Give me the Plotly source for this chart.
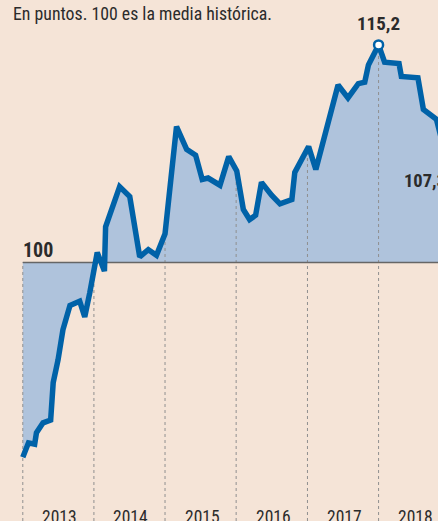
import numpy as np
import pandas as pd
import plotly.graph_objects as go

dates = ["2013-01-01", "2013-01-30", "2013-03-03", "2013-03-12", "2013-04-15", "2013-05-24",
         "2013-06-06", "2013-07-01", "2013-07-26", "2013-08-31", "2013-10-20", "2013-11-15",
         "2013-12-11", "2014-01-18", "2014-02-24", "2014-03-02", "2014-05-13", "2014-07-04",
         "2014-08-24", "2014-10-07", "2014-11-18", "2015-01-01", "2015-03-01", "2015-04-22",
         "2015-06-07", "2015-07-11", "2015-08-10", "2015-10-10", "2015-11-24", "2016-01-04",
         "2016-02-07", "2016-03-10", "2016-04-10", "2016-05-10", "2016-07-01", "2016-08-13",
         "2016-10-13", "2016-10-28", "2017-01-07", "2017-02-13", "2017-06-07", "2017-07-28",
         "2017-09-19", "2017-10-22", "2017-11-10", "2018-01-01", "2018-02-01", "2018-04-16",
         "2018-04-28", "2018-07-22", "2018-08-19", "2018-10-25", "2018-12-15"]
values = [86.4, 87.4, 87.3, 88.1, 88.8, 89.0, 91.6, 93.2, 95.3, 97.0, 97.3, 96.2,
          97.9, 100.7, 99.4, 102.5, 105.3, 104.6, 100.4, 100.9, 100.5, 102.0, 109.5, 107.9,
          107.5, 105.8, 105.9, 105.4, 107.4, 106.4, 103.7, 103.0, 103.3, 105.6, 104.7, 104.1,
          104.4, 106.3, 108.1, 106.5, 112.4, 111.5, 112.5, 112.6, 113.8, 115.2, 114.0, 113.9,
          113.0, 112.9, 110.7, 110.0, 107.3]
years = [2013, 2014, 2015, 2016, 2017, 2018]
year_labels = ["2013", "2014", "2015", "2016", "2017", "2018"]
baseline = 100
title_text = "En puntos. 100 es la media histórica."

BG = "#f5e4d7"
FILL = "#afc3dc"
LINE = "#0062a8"
GRID = "#8f8f8f"
TEXT = "#2b2b2b"
FONT = "Roboto Condensed, Roboto, sans-serif"

x = pd.to_datetime(dates)
v = np.array(values)
ymin, ymax = 81.94, 118.34
x_range = ["2012-09-06", "2018-11-02"]

fig = go.Figure()
# invisible baseline for the fill
fig.add_trace(go.Scatter(x=x, y=[baseline] * len(x), mode="lines",
                         line=dict(width=0, color=FILL), hoverinfo="skip", showlegend=False))
fig.add_trace(go.Scatter(x=x, y=v, mode="lines", line=dict(width=0, color=FILL),
                         fill="tonexty", fillcolor=FILL, hoverinfo="skip", showlegend=False))

# dotted year separators, from the bottom up to the line (or the baseline)
xs_num = x.values.astype("datetime64[D]").astype(float)
vx, vy = [], []
for yr in years:
    d = pd.Timestamp(f"{yr}-01-01")
    val = np.interp(np.datetime64(d, "D").astype(float), xs_num, v)
    top = max(val, baseline)
    vx += [d, d, None]
    vy += [ymin, top, None]
fig.add_trace(go.Scatter(x=vx, y=vy, mode="lines", line=dict(color=GRID, width=1, dash="dot"),
                         hoverinfo="skip", showlegend=False))

# baseline 100 line
fig.add_trace(go.Scatter(x=[x[0], pd.Timestamp(x_range[1]) + pd.Timedelta(days=60)],
                         y=[baseline, baseline], mode="lines",
                         line=dict(color="#666666", width=1.5), hoverinfo="skip", showlegend=False))

# main line
fig.add_trace(go.Scatter(x=x, y=v, mode="lines", line=dict(color=LINE, width=5.5),
                         showlegend=False))

# peak marker
imax = int(np.argmax(v))
fig.add_trace(go.Scatter(x=[x[imax]], y=[v[imax]], mode="markers",
                         marker=dict(size=9, color="white", line=dict(color=LINE, width=2.5)),
                         showlegend=False))


def fmt(n):
    return f"{n:.1f}".replace(".", ",")


annotations = [
    dict(x=0.025, xref="paper", y=1, yref="paper", yshift=-1, text=title_text, showarrow=False,
         xanchor="left", yanchor="top", align="left",
         font=dict(family=FONT, size=17.8, color=TEXT)),
    dict(x=x[imax], y=v[imax], text=f"<b>{fmt(v[imax])}</b>", showarrow=False,
         xanchor="center", yanchor="bottom", yshift=8,
         font=dict(family=FONT, size=19, color=TEXT)),
    dict(x=x[0], y=baseline, text=f"<b>{baseline}</b>", showarrow=False,
         xanchor="left", yanchor="bottom", yshift=-1, xshift=-2,
         font=dict(family=FONT, size=20, color=TEXT)),
    dict(x=402 / 438, xref="paper", y=v[-1], text=f"<b>{fmt(v[-1])}</b>", showarrow=False,
         xanchor="left", yanchor="top", align="left", yshift=-10,
         font=dict(family=FONT, size=18.5, color=TEXT)),
]
for yr, lab in zip(years, year_labels):
    annotations.append(dict(x=pd.Timestamp(f"{yr}-07-10"), y=0, yref="paper", text=lab,
                            showarrow=False, xanchor="center", yanchor="bottom", yshift=-8,
                            font=dict(family=FONT, size=17.5, color=TEXT)))

fig.update_layout(
    width=438, height=521,
    margin=dict(l=0, r=0, t=0, b=0),
    paper_bgcolor=BG, plot_bgcolor=BG,
    xaxis=dict(range=x_range, visible=False, fixedrange=True),
    yaxis=dict(range=[ymin, ymax], visible=False, fixedrange=True),
    annotations=annotations,
    showlegend=False,
)
fig.write_html("out.html", config={"displayModeBar": False},
               post_script="document.body.style.margin='0';")
